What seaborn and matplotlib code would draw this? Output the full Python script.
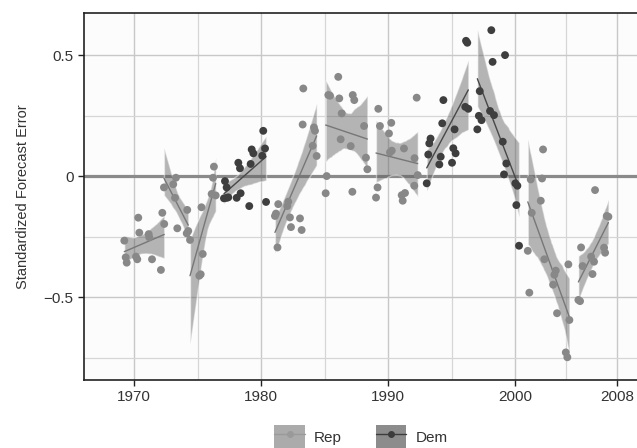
import pandas as pd
import seaborn as sns
import matplotlib.pyplot as plt
from matplotlib.patches import Patch
from matplotlib.lines import Line2D

# Standardized forecast errors, one list per presidential term (decimal year, error)
nixon1_x = [1969.24, 1969.35, 1969.43, 1970.34, 1970.16, 1970.26, 1970.42, 1971.16, 1971.20, 1971.42, 1972.12, 1972.23, 1972.38]
nixon1_y = [-0.267, -0.336, -0.358, -0.172, -0.333, -0.344, -0.234, -0.240, -0.253, -0.344, -0.388, -0.152, -0.198]

nixon2_x = [1972.36, 1973.09, 1973.30, 1973.23, 1973.41, 1974.19, 1974.27, 1974.15]
nixon2_y = [-0.047, -0.034, -0.007, -0.090, -0.216, -0.140, -0.227, -0.237]

ford_x = [1974.41, 1975.14, 1975.25, 1975.41, 1975.31, 1976.11, 1976.43, 1976.22, 1976.29]
ford_y = [-0.264, -0.412, -0.406, -0.322, -0.129, -0.074, -0.080, -0.007, 0.039]

carter_x = [1977.16, 1977.29, 1977.08, 1977.29, 1977.42, 1978.08, 1978.39, 1978.21, 1978.34, 1979.07, 1979.18, 1979.26, 1979.39, 1980.09, 1980.17, 1980.31, 1980.39]
carter_y = [-0.021, -0.047, -0.092, -0.090, -0.088, -0.090, -0.071, 0.055, 0.032, -0.124, 0.050, 0.110, 0.094, 0.084, 0.187, 0.114, -0.107]

reagan1_x = [1981.29, 1981.09, 1981.17, 1981.35, 1982.14, 1982.06, 1982.27, 1982.35, 1983.06, 1983.19, 1983.32, 1983.27, 1984.16, 1984.24, 1984.06, 1984.37]
reagan1_y = [-0.295, -0.165, -0.155, -0.116, -0.106, -0.124, -0.171, -0.211, -0.175, -0.223, 0.362, 0.213, 0.201, 0.187, 0.125, 0.083]

reagan2_x = [1986.07, 1985.29, 1985.42, 1986.15, 1987.21, 1987.33, 1986.34, 1988.10, 1986.26, 1987.05, 1988.25, 1988.36, 1985.16, 1985.08, 1987.18]
reagan2_y = [0.410, 0.335, 0.332, 0.321, 0.335, 0.314, 0.259, 0.207, 0.152, 0.124, 0.076, 0.028, 0.000, -0.071, -0.065]

bush_x = [1992.24, 1989.22, 1990.24, 1989.35, 1990.06, 1990.28, 1990.14, 1991.24, 1992.07, 1992.32, 1992.05, 1989.16, 1989.04, 1991.06, 1991.32, 1991.14]
bush_y = [0.324, 0.278, 0.220, 0.207, 0.176, 0.105, 0.098, 0.114, 0.074, 0.004, -0.040, -0.047, -0.089, -0.079, -0.070, -0.102]

clinton1_x = [1993.03, 1993.15, 1993.23, 1993.33, 1994.02, 1994.13, 1994.25, 1994.34, 1995.02, 1995.12, 1995.30, 1995.22, 1996.06, 1996.30, 1996.12, 1996.22]
clinton1_y = [-0.030, 0.089, 0.135, 0.155, 0.048, 0.080, 0.218, 0.314, 0.055, 0.115, 0.094, 0.193, 0.286, 0.278, 0.559, 0.551]

clinton2_x = [1998.11, 1999.19, 1998.21, 1997.20, 1998.01, 1998.32, 1997.13, 1997.34, 1997.01, 1999.01, 1999.29, 1999.11, 2000.00, 2000.16, 2000.08, 2000.29]
clinton2_y = [0.603, 0.500, 0.472, 0.351, 0.269, 0.252, 0.249, 0.231, 0.193, 0.142, 0.052, 0.007, -0.030, -0.040, -0.120, -0.288]

gwbush1_x = [2001.21, 2002.10, 2002.18, 2002.00, 2001.29, 2000.98, 2001.10, 2002.28, 2003.18, 2003.07, 2002.97, 2004.17, 2003.28, 2004.25, 2003.97, 2004.09]
gwbush1_y = [-0.014, -0.010, 0.110, -0.102, -0.152, -0.309, -0.482, -0.344, -0.391, -0.408, -0.449, -0.365, -0.567, -0.595, -0.729, -0.749]

gwbush2_x = [2006.27, 2007.19, 2007.32, 2005.17, 2005.29, 2005.96, 2006.19, 2006.07, 2006.98, 2007.06, 2004.96, 2005.09]
gwbush2_y = [-0.058, -0.165, -0.168, -0.295, -0.372, -0.333, -0.354, -0.405, -0.296, -0.317, -0.512, -0.517]

terms = [
    ("Nixon I", "Rep", nixon1_x, nixon1_y),
    ("Nixon II", "Rep", nixon2_x, nixon2_y),
    ("Ford", "Rep", ford_x, ford_y),
    ("Carter", "Dem", carter_x, carter_y),
    ("Reagan I", "Rep", reagan1_x, reagan1_y),
    ("Reagan II", "Rep", reagan2_x, reagan2_y),
    ("Bush", "Rep", bush_x, bush_y),
    ("Clinton I", "Dem", clinton1_x, clinton1_y),
    ("Clinton II", "Dem", clinton2_x, clinton2_y),
    ("G.W. Bush I", "Rep", gwbush1_x, gwbush1_y),
    ("G.W. Bush II", "Rep", gwbush2_x, gwbush2_y),
]

rows = []
for term, party, xs, ys in terms:
    for x, y in zip(xs, ys):
        rows.append({"year": x, "error": y, "party": party, "term": term})
df = pd.DataFrame(rows)

point_colors = {"Rep": "#888888", "Dem": "#3e3e3e"}
line_colors = {"Rep": "#777777", "Dem": "#484848"}

sns.set_theme(style="white")
plt.rcParams["font.family"] = ["Liberation Sans", "DejaVu Sans"]

fig = plt.figure(figsize=(6.37, 4.48), dpi=100)
ax = fig.add_axes([84 / 637, 1 - 380 / 448, (637 - 84) / 637, (380 - 13) / 448])
ax.set_facecolor("#fcfcfc")

# grid
ax.set_xticks([1970, 1980, 1990, 2000, 2008])
ax.set_xticks([1975, 1985, 1995, 2004], minor=True)
ax.set_yticks([-0.5, 0, 0.5])
ax.set_yticks([-0.75, -0.25, 0.25], minor=True)
ax.set_yticklabels(["\u22120.5", "0", "0.5"])
ax.grid(which="major", color="#c8c8c8", lw=1.0, zorder=0)
ax.grid(which="minor", color="#d6d6d6", lw=0.9, zorder=0)
ax.set_axisbelow(True)

ax.axhline(0, color="#8a8a8a", lw=2.3, zorder=1)

# per-term linear fits with confidence bands
for term, party, xs, ys in terms:
    sub = df[df["term"] == term]
    sns.regplot(data=sub, x="year", y="error", ax=ax, scatter=False, ci=95,
                color=line_colors[party], line_kws={"lw": 1.0, "zorder": 3})
    band = ax.collections[-1]
    band.set_facecolor("#5e5e5e")
    band.set_alpha(0.45)
    band.set_zorder(2)

sns.scatterplot(data=df, x="year", y="error", hue="party", palette=point_colors,
                s=32, linewidth=0, ax=ax, legend=False, zorder=4)

ax.set_xlim(1966.07, 2009.57)
ax.set_ylim(-0.843, 0.674)
ax.set_xlabel("")
ax.set_ylabel("Standardized Forecast Error", fontsize=10.5, color="#333333", labelpad=10)

for side in ["left", "bottom", "top"]:
    ax.spines[side].set_visible(True)
    ax.spines[side].set_color("#222222")
    ax.spines[side].set_linewidth(1.2)
ax.spines["right"].set_visible(False)

ax.tick_params(axis="both", which="major", length=4, width=1, color="#222222",
               labelsize=11, labelcolor="#333333", direction="out",
               bottom=True, left=True)
ax.tick_params(axis="both", which="minor", length=0)

handles = [
    (Patch(facecolor="#ababab", edgecolor="none"),
     Line2D([], [], color="#9a9a9a", marker="o", ms=4, lw=1.0)),
    (Patch(facecolor="#8c8c8c", edgecolor="none"),
     Line2D([], [], color="#3c3c3c", marker="o", ms=4, lw=1.0)),
]
fig.legend(handles, ["Rep", "Dem"], loc="center", bbox_to_anchor=(361 / 637, 1 - 437 / 448),
           ncol=2, frameon=False, fontsize=11, handlelength=2.0, handleheight=2.0,
           columnspacing=2.2, handletextpad=0.6, labelcolor="#333333")

fig.savefig("out.png", dpi=100)
